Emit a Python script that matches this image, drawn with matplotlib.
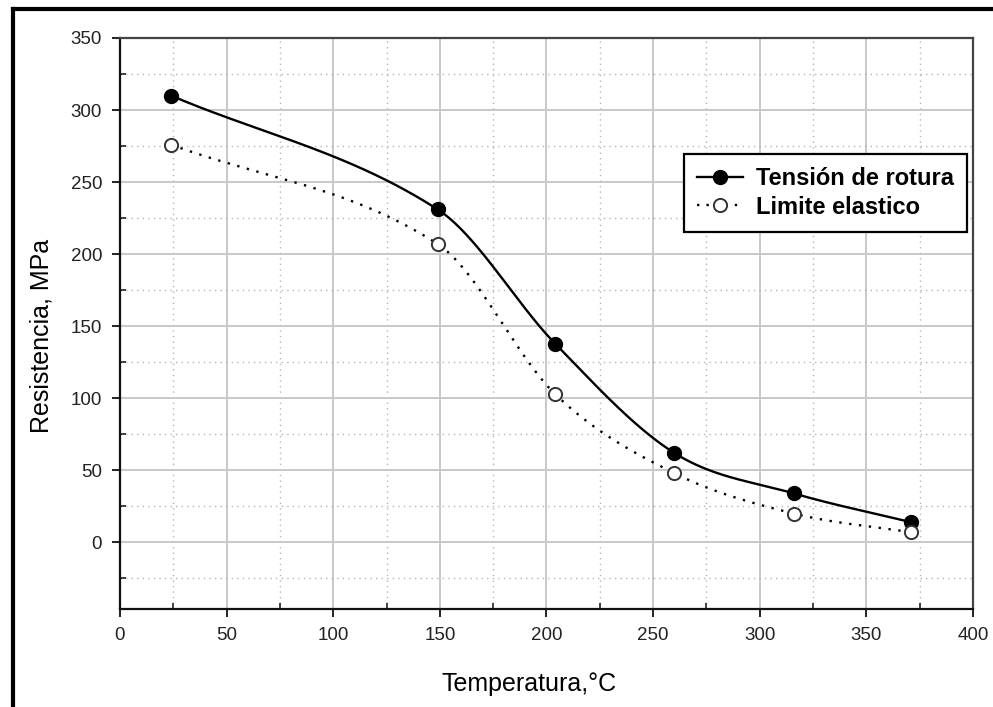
import numpy as np
import matplotlib
matplotlib.use('Agg')
import matplotlib.pyplot as plt
from matplotlib.lines import Line2D
from matplotlib.ticker import MultipleLocator

plt.rcParams['font.family'] = ['Liberation Sans', 'DejaVu Sans']

# temperatures of the test points, degC
temperatura = [24, 149, 204, 260, 316, 371]
# ultimate and yield strength, MPa
tension_rotura = [310, 231, 138, 62, 34, 14]
limite_elastico = [276, 207, 103, 48, 20, 7]

labels = ['Tensión de rotura', 'Limite elastico']


def smooth(x, y, n=400):
    # cubic Hermite through the points, slopes from neighbouring points
    x = np.asarray(x, float)
    y = np.asarray(y, float)
    d = np.empty_like(y)
    d[1:-1] = (y[2:] - y[:-2]) / (x[2:] - x[:-2])
    d[0] = (y[1] - y[0]) / (x[1] - x[0])
    d[-1] = (y[-1] - y[-2]) / (x[-1] - x[-2])
    xs = np.linspace(x[0], x[-1], n)
    j = np.clip(np.searchsorted(x, xs) - 1, 0, len(x) - 2)
    h = x[j + 1] - x[j]
    t = (xs - x[j]) / h
    h00 = 2 * t ** 3 - 3 * t ** 2 + 1
    h10 = t ** 3 - 2 * t ** 2 + t
    h01 = -2 * t ** 3 + 3 * t ** 2
    h11 = t ** 3 - t ** 2
    ys = h00 * y[j] + h10 * h * d[j] + h01 * y[j + 1] + h11 * h * d[j + 1]
    return xs, ys


fig = plt.figure(figsize=(9.93, 7.07), dpi=100)
ax = fig.add_axes([0.1208, 0.139, 0.8591, 0.8073])

ax.set_xlim(0, 400)
ax.set_ylim(-46, 350)
ax.xaxis.set_major_locator(MultipleLocator(50))
ax.xaxis.set_minor_locator(MultipleLocator(25))
ax.yaxis.set_major_locator(MultipleLocator(50))
ax.yaxis.set_minor_locator(MultipleLocator(25))

ax.grid(which='major', color='#c8c8c8', linewidth=1.4, linestyle='-')
ax.grid(which='minor', color='#b4b4b4', linewidth=1.0, linestyle=(0, (1, 3)))
ax.set_axisbelow(True)

ax.tick_params(which='major', direction='out', length=5.8, width=1.4,
               labelsize=13.5, colors='#222222', pad=7)
ax.tick_params(which='minor', direction='in', length=4, width=1.2,
               colors='#222222')

for side in ('left', 'bottom'):
    ax.spines[side].set_linewidth(1.6)
    ax.spines[side].set_color('#111111')
for side in ('top', 'right'):
    ax.spines[side].set_linewidth(1.6)
    ax.spines[side].set_color('#444444')

xs, ys = smooth(temperatura, tension_rotura)
ax.plot(xs, ys, color='black', linewidth=1.7, zorder=3)
ax.plot(temperatura, tension_rotura, 'o', color='black', markersize=10,
        zorder=4)

xs, ys = smooth(temperatura, limite_elastico)
ax.plot(xs, ys, color='black', linewidth=1.7, linestyle=(0, (1, 3.2)),
        zorder=3)
ax.plot(temperatura, limite_elastico, 'o', markerfacecolor='white',
        markeredgecolor='#333333', markeredgewidth=1.4, markersize=9.5,
        zorder=4)

ax.set_xlabel('Temperatura,°C', fontsize=18)
ax.set_ylabel('Resistencia, MPa', fontsize=18)
ax.xaxis.set_label_coords(0.4795, -0.111)
ax.yaxis.set_label_coords(-0.078, 0.4787)

handles = [
    Line2D([], [], color='black', linewidth=1.7, marker='o', markersize=10),
    Line2D([], [], color='black', linewidth=1.7, linestyle=(0, (1, 3)),
           marker='o', markersize=9.5, markerfacecolor='white',
           markeredgecolor='#333333', markeredgewidth=1.4),
]
leg = ax.legend(handles, labels, loc='upper right',
                bbox_to_anchor=(0.993, 0.797), borderaxespad=0,
                fancybox=False, framealpha=1, edgecolor='black',
                handlelength=1.95, handletextpad=0.55, borderpad=0.55,
                labelspacing=0.25, prop={'weight': 'bold', 'size': 17})
leg.get_frame().set_linewidth(1.6)

# heavy frame along the top and left edges of the figure
fig.add_artist(Line2D([13 / 993, 1], [1 - 9 / 707, 1 - 9 / 707],
                      color='black', linewidth=3, transform=fig.transFigure))
fig.add_artist(Line2D([13 / 993, 13 / 993], [0, 1 - 9 / 707],
                      color='black', linewidth=3, transform=fig.transFigure))

fig.savefig('out.png', dpi=100)
